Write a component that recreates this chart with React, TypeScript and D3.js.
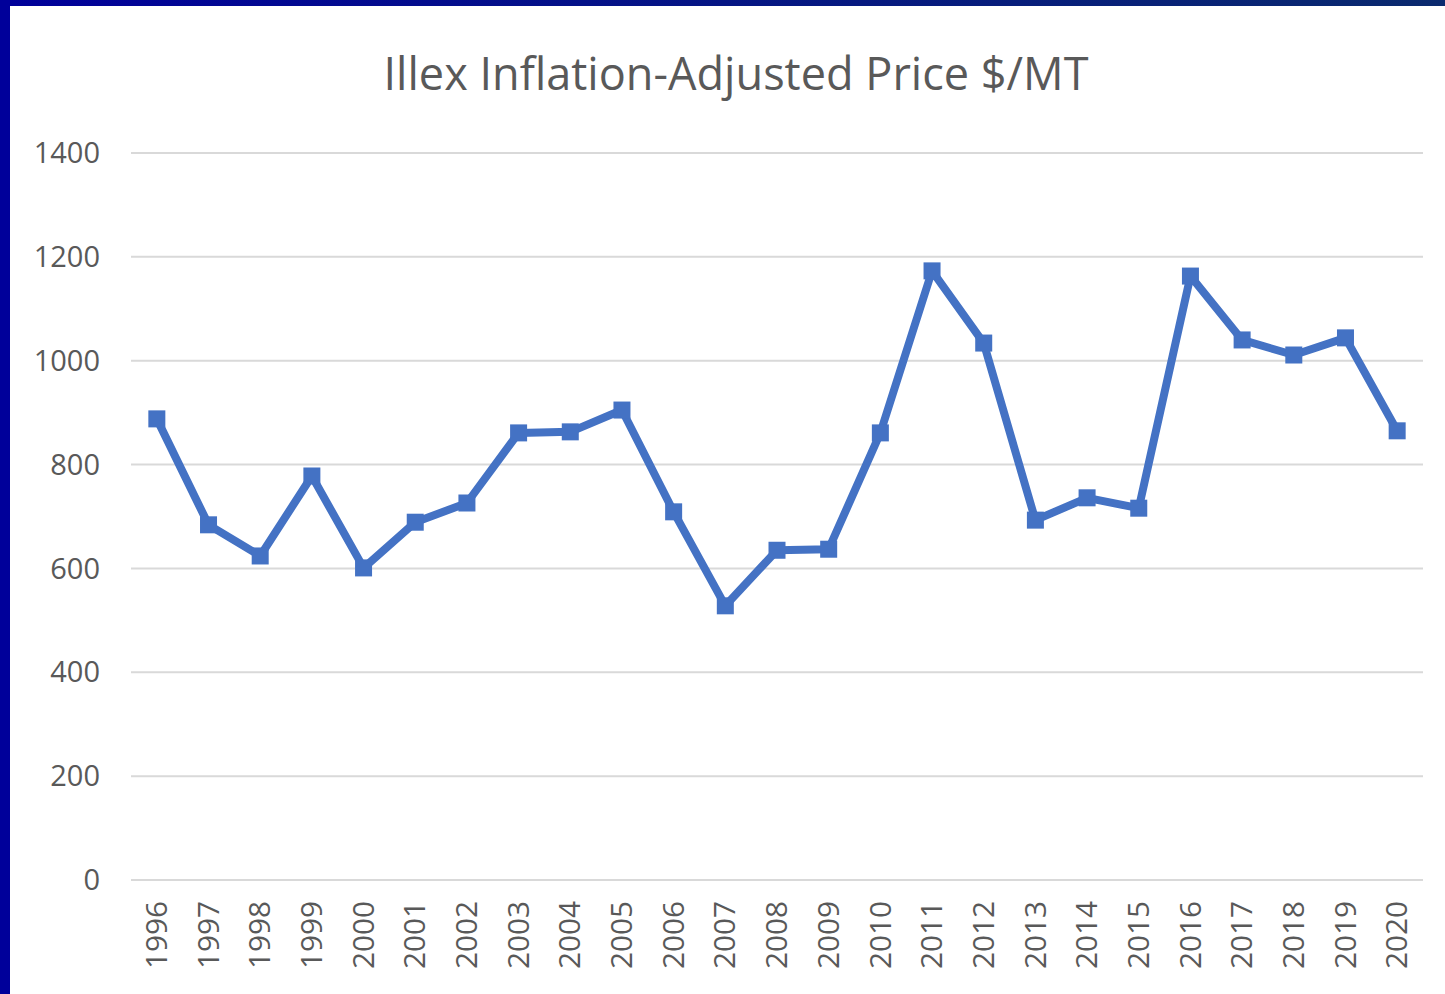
import React from "react";
import * as d3 from "d3";

const years = ["1996","1997","1998","1999","2000","2001","2002","2003","2004","2005","2006","2007","2008","2009","2010","2011","2012","2013","2014","2015","2016","2017","2018","2019","2020"];
const prices = [888,684,624,778,601,689,726,861,863,905,709,528,635,637,861,1173,1034,693,736,716,1163,1040,1011,1044,865];
const yTicks = [0,200,400,600,800,1000,1200,1400];
const title = "Illex Inflation-Adjusted Price $/MT";

export default function App() {
  const W = 1445, H = 994;
  const left = 131, right = 1423, top = 153, bottom = 880;
  const x = d3.scaleBand<string>().domain(years).range([left, right]);
  const y = d3.scaleLinear().domain([0, 1400]).range([bottom, top]);
  const cx = (d: string) => (x(d) as number) + x.bandwidth() / 2;
  const line = d3.line<number>().x((_, i) => cx(years[i])).y((v) => y(v));
  const font = "'Open Sans', 'DejaVu Sans', sans-serif";
  return (
    <svg width={W} height={H} style={{ position: "absolute", left: 0, top: 0, display: "block" }}>
      <defs>
        <linearGradient id="topbar" x1="0" x2="1" y1="0" y2="0">
          <stop offset="0" stopColor="#00009a" />
          <stop offset="1" stopColor="#0a2a6e" />
        </linearGradient>
      </defs>
      <rect x={0} y={0} width={W} height={H} fill="#ffffff" />
      <rect x={0} y={0} width={W} height={6} fill="url(#topbar)" />
      <rect x={0} y={0} width={10} height={H} fill="#00009a" />
      <text x={736} y={90} textAnchor="middle" fontFamily={font} fontSize={46} fill="#595959" textLength={705} lengthAdjust="spacingAndGlyphs">{title}</text>
      {yTicks.map((t) => (
        <g key={t}>
          <line x1={left} x2={right} y1={y(t)} y2={y(t)} stroke="#d9d9d9" strokeWidth={2} />
          <text x={100} y={y(t)} dy="0.35em" textAnchor="end" fontFamily={font} fontSize={29} fill="#595959">{t}</text>
        </g>
      ))}
      {years.map((yr) => (
        <text key={yr} transform={`translate(${cx(yr)},${bottom + 21}) rotate(-90)`} textAnchor="end" dy="0.35em" fontFamily={font} fontSize={29} fill="#595959" textLength={68} lengthAdjust="spacingAndGlyphs">{yr}</text>
      ))}
      <path d={line(prices) as string} fill="none" stroke="#4472c4" strokeWidth={8} strokeLinejoin="round" />
      {prices.map((v, i) => (
        <rect key={i} x={cx(years[i]) - 8.5} y={y(v) - 8.5} width={17} height={17} fill="#4472c4" />
      ))}
    </svg>
  );
}
